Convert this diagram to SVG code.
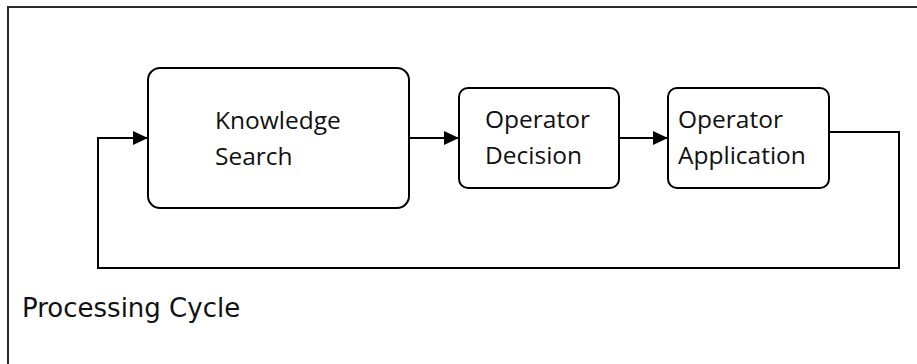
<svg xmlns="http://www.w3.org/2000/svg" width="917" height="364" viewBox="0 0 917 364">
  <style>
    .frame { fill: none; stroke: #2b2b2b; stroke-width: 2; }
    .box { fill: #ffffff; stroke: #000000; stroke-width: 2; }
    .wire { fill: none; stroke: #000000; stroke-width: 2; }
    .label { font-family: "Open Sans", "Liberation Sans", sans-serif; font-size: 24.5px; fill: #111111; }
    .title { font-family: "DejaVu Sans", Verdana, sans-serif; font-size: 26px; fill: #111111; }
  </style>
  <defs>
    <marker id="arrow" markerUnits="userSpaceOnUse" markerWidth="16" markerHeight="16" refX="15" refY="8" orient="auto">
      <path d="M0,1 L15,8 L0,15 Z" fill="#000000"/>
    </marker>
  </defs>

  <rect width="917" height="364" fill="#ffffff"/>

  <!-- enclosing frame (open at right and bottom) -->
  <path class="frame" d="M8,364 L8,7 L917,7"/>

  <g id="connectors">
    <path class="wire" d="M409,138 L459,138" marker-end="url(#arrow)"/>
    <path class="wire" d="M619,138 L668,138" marker-end="url(#arrow)"/>
    <path class="wire" d="M829,132 L899,132 L899,268 L98,268 L98,138 L148,138" marker-end="url(#arrow)"/>
  </g>

  <g id="knowledge-search">
    <rect class="box" x="148" y="68" width="261" height="140" rx="12"/>
    <text class="label" x="215" y="129">Knowledge</text>
    <text class="label" x="215" y="165">Search</text>
  </g>

  <g id="operator-decision">
    <rect class="box" x="459" y="88" width="160" height="100" rx="9"/>
    <text class="label" x="485" y="128">Operator</text>
    <text class="label" x="485" y="164">Decision</text>
  </g>

  <g id="operator-application">
    <rect class="box" x="668" y="88" width="161" height="100" rx="9"/>
    <text class="label" x="678" y="128">Operator</text>
    <text class="label" x="678" y="164">Application</text>
  </g>

  <g id="processing-cycle">
    <text class="title" x="22" y="317">Processing Cycle</text>
  </g>
</svg>
